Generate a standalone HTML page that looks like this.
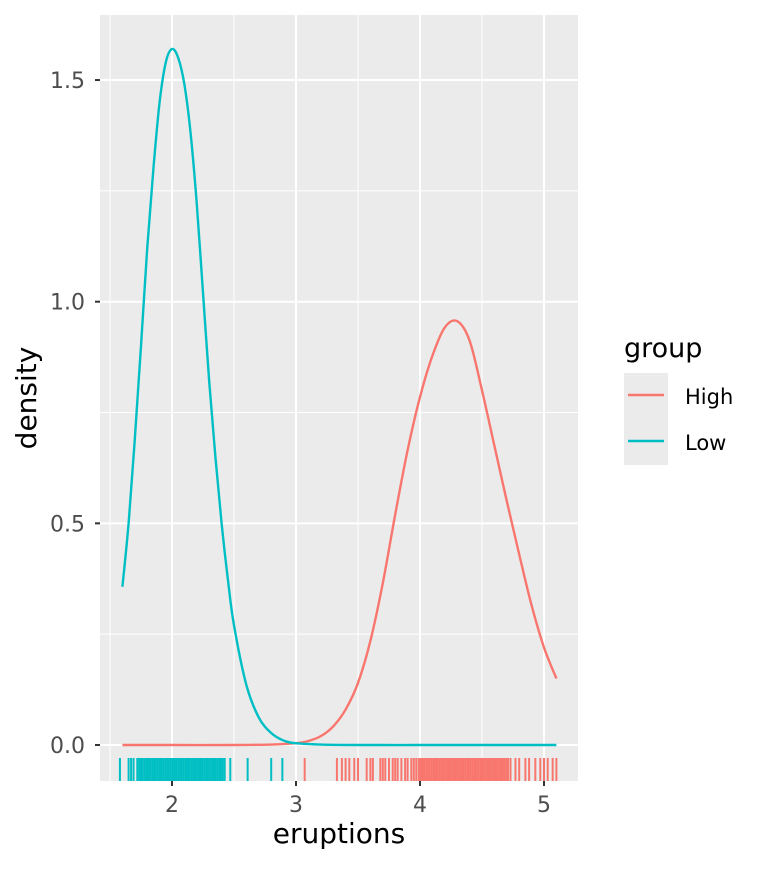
<!DOCTYPE html>
<html><head><meta charset="utf-8"><style>
body{margin:0;background:#fff;}
svg text{font-family:"DejaVu Sans","Liberation Sans",sans-serif;}
</style></head><body>
<svg id="chart" width="768" height="865" viewBox="0 0 768 865">
<rect x="0" y="0" width="768" height="865" fill="#fff"/>
<rect x="100" y="15" width="478" height="766" fill="#EBEBEB"/>
<g id="grid"></g><g id="series"></g><g id="rug"></g><g id="axes"></g>
<text x="339" y="843" text-anchor="middle" font-size="28" fill="#000">eruptions</text>
<text x="0" y="0" transform="translate(36,398) rotate(-90)" text-anchor="middle" font-size="28" fill="#000">density</text>
<g>
<text x="624" y="357" font-size="27" fill="#000">group</text>
<rect x="624" y="373" width="44" height="46" fill="#EBEBEB"/>
<line x1="628" x2="664" y1="395" y2="395" stroke="#F8766D" stroke-width="2.4"/>
<text x="685" y="404" font-size="21" fill="#000">High</text>
<rect x="624" y="419" width="44" height="46" fill="#EBEBEB"/>
<line x1="628" x2="664" y1="441" y2="441" stroke="#00BFC4" stroke-width="2.4"/>
<text x="685" y="450" font-size="21" fill="#000">Low</text>
</g>
</svg>
<script>
const xTicks=[2,3,4,5];
const xTickLabels=["2","3","4","5"];
const xMinor=[1.5,2.5,3.5,4.5];
const yTicks=[0,0.5,1,1.5];
const yTickLabels=["0.0","0.5","1.0","1.5"];
const yMinor=[0.25,0.75,1.25];
const lowX=[1.6,1.65,1.7,1.75,1.8,1.85,1.9,1.95,2.0,2.05,2.1,2.15,2.2,2.25,2.3,2.35,2.4,2.45,2.5,2.6,2.7,2.8,2.9,3.0,3.2,3.5,4.0,4.5,5.1];
const lowY=[0.357,0.5,0.69,0.9,1.12,1.3,1.45,1.54,1.57,1.55,1.49,1.38,1.22,1.02,0.82,0.65,0.5,0.375,0.27,0.135,0.062,0.027,0.01,0.004,0.001,0,0,0,0];
const highX=[1.6,2.0,2.5,2.8,3.0,3.1,3.2,3.3,3.4,3.5,3.6,3.7,3.8,3.9,4.0,4.1,4.2,4.3,4.4,4.5,4.6,4.7,4.8,4.9,5.0,5.1];
const highY=[0,0,0,0.001,0.004,0.009,0.02,0.042,0.08,0.14,0.235,0.365,0.52,0.665,0.785,0.878,0.942,0.956,0.912,0.8,0.675,0.55,0.43,0.315,0.22,0.15];
const lowRug=[1.58,1.65,1.67,1.69,1.72,1.735,1.75,1.765,1.78,1.795,1.81,1.825,1.84,1.855,1.87,1.885,1.9,1.915,1.93,1.945,1.96,1.975,1.99,2.005,2.02,2.035,2.05,2.065,2.08,2.095,2.11,2.125,2.14,2.155,2.17,2.185,2.2,2.215,2.23,2.245,2.26,2.275,2.29,2.305,2.32,2.335,2.35,2.365,2.38,2.395,2.41,2.425,2.47,2.61,2.8,2.89];
const highRug=[3.07,3.33,3.37,3.4,3.43,3.47,3.5,3.57,3.6,3.62,3.68,3.7,3.72,3.75,3.78,3.8,3.82,3.85,3.88,3.9,3.93,3.95,3.97,3.99,4.005,4.02,4.035,4.05,4.065,4.08,4.095,4.11,4.125,4.14,4.155,4.17,4.185,4.2,4.215,4.23,4.245,4.26,4.275,4.29,4.305,4.32,4.335,4.35,4.365,4.38,4.395,4.41,4.425,4.44,4.455,4.47,4.485,4.5,4.515,4.53,4.545,4.56,4.575,4.59,4.605,4.62,4.635,4.65,4.665,4.68,4.695,4.71,4.73,4.77,4.8,4.85,4.88,4.93,4.97,5.0,5.03,5.07,5.1];
const NS="http://www.w3.org/2000/svg";
const sx=v=>172+(v-2)*124;
const sy=v=>745-v*443.3;
function mk(tag,attrs,parent){const e=document.createElementNS(NS,tag);for(const k in attrs)e.setAttribute(k,attrs[k]);parent.appendChild(e);return e;}
const grid=document.getElementById('grid'),axes=document.getElementById('axes'),series=document.getElementById('series'),rug=document.getElementById('rug');
xMinor.forEach(v=>{const l=mk('line',{x1:sx(v),x2:sx(v),y1:15,y2:781,stroke:'#fff','stroke-width':1},grid);

});
yMinor.forEach(v=>{const l=mk('line',{x1:100,x2:578,y1:sy(v),y2:sy(v),stroke:'#fff','stroke-width':1},grid);

});
xTicks.forEach((v,i)=>{const l=mk('line',{x1:sx(v),x2:sx(v),y1:15,y2:781,stroke:'#fff','stroke-width':2},grid);


const t=mk('line',{x1:sx(v),x2:sx(v),y1:781,y2:786,stroke:'#333','stroke-width':2},axes);


const tx=mk('text',{x:sx(v),y:812,'text-anchor':'middle','font-size':22,fill:'#4D4D4D'},axes);tx.textContent=xTickLabels[i];

});
yTicks.forEach((v,i)=>{const l=mk('line',{x1:100,x2:578,y1:sy(v),y2:sy(v),stroke:'#fff','stroke-width':2},grid);


const t=mk('line',{x1:95,x2:100,y1:sy(v),y2:sy(v),stroke:'#333','stroke-width':2},axes);


const tx=mk('text',{x:85,y:sy(v)+8,'text-anchor':'end','font-size':22,fill:'#4D4D4D'},axes);tx.textContent=yTickLabels[i];

});
function pathFor(xs,ys){const p=xs.map((x,i)=>[sx(x),sy(ys[i])]);let d='M'+p[0][0]+','+p[0][1];
for(let i=0;i<p.length-1;i++){const p0=p[i-1]||p[i],p1=p[i],p2=p[i+1],p3=p[i+2]||p2;
const c1=[p1[0]+(p2[0]-p0[0])/6,p1[1]+(p2[1]-p0[1])/6],c2=[p2[0]-(p3[0]-p1[0])/6,p2[1]-(p3[1]-p1[1])/6];
d+=' C'+c1+' '+c2+' '+p2;}return d;}
const ph=mk('path',{d:pathFor(highX,highY),fill:'none',stroke:'#F8766D','stroke-width':2.4},series);


const pl=mk('path',{d:pathFor(lowX,lowY),fill:'none',stroke:'#00BFC4','stroke-width':2.4},series);


lowRug.forEach(v=>{const l=mk('line',{x1:sx(v),x2:sx(v),y1:758,y2:781,stroke:'#00BFC4','stroke-width':2},rug);

});
highRug.forEach(v=>{const l=mk('line',{x1:sx(v),x2:sx(v),y1:758,y2:781,stroke:'#F8766D','stroke-width':2},rug);

});
</script>
</body></html>
